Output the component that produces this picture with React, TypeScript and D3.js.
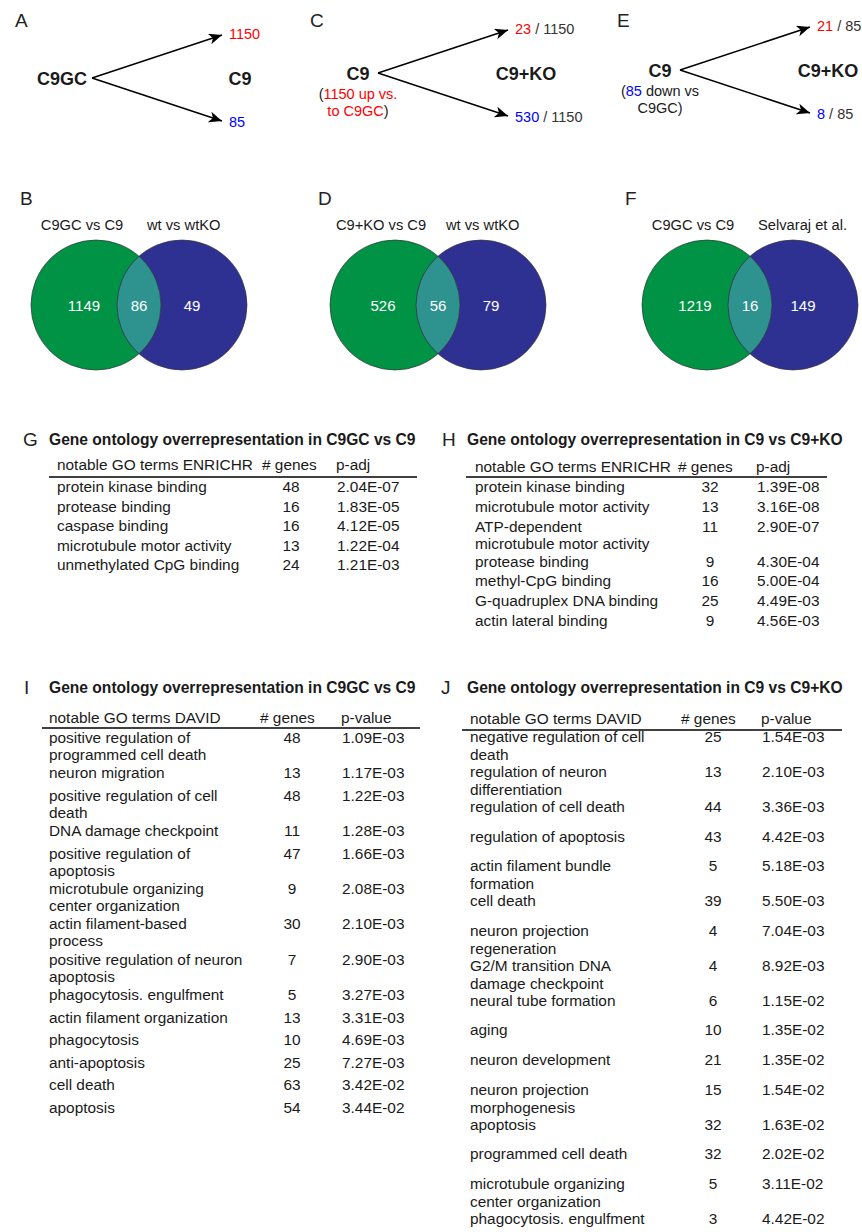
import React from 'react';
import * as d3 from 'd3';

const FONT = '"Liberation Sans", Arial, Helvetica, sans-serif';
const INK = '#1a1a1a';
const UP = '#ff0000';
const DOWN = '#0000ff';

// ---- panels A, C, E : fold-change arrows ----
const flowLetters = ['A', 'C', 'E'];
const flowSource = ['C9GC', 'C9', 'C9'];
const flowTarget = ['C9', 'C9+KO', 'C9+KO'];
const flowUp = [1150, 23, 21];
const flowDown = [85, 530, 8];
const flowTotal = [null, 1150, 85];
// note lines under the source label: [text, tone]
const flowNotes: [string, string][][][] = [
  [],
  [[['(', 'plain'], ['1150 up vs.', 'up']], [['to C9GC', 'up'], [')', 'plain']]],
  [[['(', 'plain'], ['85', 'down'], [' down vs', 'plain']], [['C9GC)', 'plain']]],
];

// ---- panels B, D, F : venns ----
const vennLetters = ['B', 'D', 'F'];
const vennLeftLabel = ['C9GC vs C9', 'C9+KO vs C9', 'C9GC vs C9'];
const vennRightLabel = ['wt vs wtKO', 'wt vs wtKO', 'Selvaraj et al.'];
const vennLeftOnly = [1149, 526, 1219];
const vennShared = [86, 56, 16];
const vennRightOnly = [49, 79, 149];

// ---- G ----
const gTerms = ['protein kinase binding', 'protease binding', 'caspase binding', 'microtubule motor activity', 'unmethylated CpG binding'];
const gGenes = [48, 16, 16, 13, 24];
const gP = ['2.04E-07', '1.83E-05', '4.12E-05', '1.22E-04', '1.21E-03'];

// ---- H ----
const hTerms = ['protein kinase binding', 'microtubule motor activity', 'ATP-dependent\nmicrotubule motor activity', 'protease binding', 'methyl-CpG binding', 'G-quadruplex DNA binding', 'actin lateral binding'];
const hGenes = [32, 13, 11, 9, 16, 25, 9];
const hP = ['1.39E-08', '3.16E-08', '2.90E-07', '4.30E-04', '5.00E-04', '4.49E-03', '4.56E-03'];

// ---- I ----
const iTerms = [
  'positive regulation of\nprogrammed cell death', 'neuron migration', 'positive regulation of cell\ndeath', 'DNA damage checkpoint',
  'positive regulation of\napoptosis', 'microtubule organizing\ncenter organization', 'actin filament-based\nprocess',
  'positive regulation of neuron\napoptosis', 'phagocytosis. engulfment', 'actin filament organization', 'phagocytosis',
  'anti-apoptosis', 'cell death', 'apoptosis'];
const iGenes = [48, 13, 48, 11, 47, 9, 30, 7, 5, 13, 10, 25, 63, 54];
const iP = ['1.09E-03', '1.17E-03', '1.22E-03', '1.28E-03', '1.66E-03', '2.08E-03', '2.10E-03', '2.90E-03', '3.27E-03', '3.31E-03', '4.69E-03', '7.27E-03', '3.42E-02', '3.44E-02'];

// ---- J ----
const jTerms = [
  'negative regulation of cell\ndeath', 'regulation of neuron\ndifferentiation', 'regulation of cell death', 'regulation of apoptosis',
  'actin filament bundle\nformation', 'cell death', 'neuron projection\nregeneration', 'G2/M transition DNA\ndamage checkpoint',
  'neural tube formation', 'aging', 'neuron development', 'neuron projection\nmorphogenesis', 'apoptosis',
  'programmed cell death', 'microtubule organizing\ncenter organization', 'phagocytosis. engulfment'];
const jGenes = [25, 13, 44, 43, 5, 39, 4, 4, 6, 10, 21, 15, 32, 32, 5, 3];
const jP = ['1.54E-03', '2.10E-03', '3.36E-03', '4.42E-03', '5.18E-03', '5.50E-03', '7.04E-03', '8.92E-03', '1.15E-02', '1.35E-02', '1.35E-02', '1.54E-02', '1.63E-02', '2.02E-02', '3.11E-02', '4.42E-02'];

// layout
const flowOrigin = d3.scaleOrdinal<string, [number, number]>().domain(flowLetters).range([[92, 78], [378, 73], [680, 70]]);
const flowLetterX = d3.scaleOrdinal<string, number>().domain(flowLetters).range([15, 310, 617]);
const arrowLen = 130, arrowRise = 43;
const vennX = d3.scaleOrdinal<string, number>().domain(vennLetters).range([96, 395, 707]);
const vennLetterX = d3.scaleOrdinal<string, number>().domain(vennLetters).range([20, 318, 625]);
const vennY = 305, vennR = 65, vennSep = 86;
const BODY = 15.4;

const toneColor = (t: string) => (t === 'up' ? UP : t === 'down' ? DOWN : INK);

function FlowPanel({ i }: { i: number }) {
  const key = flowLetters[i];
  const [ox, oy] = flowOrigin(key);
  const line = d3.line();
  const up = line([[ox, oy], [ox + arrowLen, oy - arrowRise]]);
  const dn = line([[ox, oy], [ox + arrowLen, oy + arrowRise]]);
  const notes = flowNotes[i];
  const srcCenter = notes.length ? ox - 20 : null;
  const tot = flowTotal[i];
  return (
    <g>
      <text x={flowLetterX(key)} y={27} fontSize={19} fill="#222">{key}</text>
      <path d={up!} stroke="#000" strokeWidth={1.5} fill="none" markerEnd="url(#arrowhead)" />
      <path d={dn!} stroke="#000" strokeWidth={1.5} fill="none" markerEnd="url(#arrowhead)" />
      {srcCenter === null ? (
        <text x={ox - 5} y={oy + 7} textAnchor="end" fontWeight="bold" fontSize={18} fill={INK}>{flowSource[i]}</text>
      ) : (
        <text x={srcCenter} y={oy + 7} textAnchor="middle" fontWeight="bold" fontSize={18} fill={INK}>{flowSource[i]}</text>
      )}
      {notes.map((segs, k) => (
        <text key={k} x={srcCenter!} y={oy + 26 + k * 17} textAnchor="middle" fontSize={14.5}>
          {segs.map(([t, tone], m) => <tspan key={m} fill={toneColor(tone)}>{t}</tspan>)}
        </text>
      ))}
      <text x={ox + 148} y={oy + 7} textAnchor="middle" fontWeight="bold" fontSize={18} fill={INK}>{flowTarget[i]}</text>
      <text x={ox + 137} y={oy - arrowRise + 4} fontSize={14.5}>
        <tspan fill={UP}>{flowUp[i]}</tspan>{tot !== null && <tspan fill="#333">{` / ${tot}`}</tspan>}
      </text>
      <text x={ox + 137} y={oy + arrowRise + 6} fontSize={14.5}>
        <tspan fill={DOWN}>{flowDown[i]}</tspan>{tot !== null && <tspan fill="#333">{` / ${tot}`}</tspan>}
      </text>
    </g>
  );
}

function VennPanel({ i }: { i: number }) {
  const key = vennLetters[i];
  const gx = vennX(key);
  const bx = gx + vennSep;
  const clipId = `clip-${key}`;
  return (
    <g>
      <text x={vennLetterX(key)} y={205} fontSize={19} fill="#222">{key}</text>
      <text x={gx - 14} y={230} textAnchor="middle" fontSize={14.7} fill={INK}>{vennLeftLabel[i]}</text>
      <text x={bx - 35} y={230} fontSize={14.7} fill={INK}>{vennRightLabel[i]}</text>
      <clipPath id={clipId}><circle cx={bx} cy={vennY} r={vennR} /></clipPath>
      <circle cx={gx} cy={vennY} r={vennR} fill="#009245" />
      <circle cx={bx} cy={vennY} r={vennR} fill="#2e3192" />
      <circle cx={gx} cy={vennY} r={vennR} fill="#2e938f" clipPath={`url(#${clipId})`} />
      <circle cx={gx} cy={vennY} r={vennR} fill="none" stroke="#333" strokeWidth={0.7} />
      <circle cx={bx} cy={vennY} r={vennR} fill="none" stroke="#333" strokeWidth={0.7} />
      <text x={gx - 12} y={vennY + 6} textAnchor="middle" fontSize={15} fill="#fff">{vennLeftOnly[i]}</text>
      <text x={(gx + bx) / 2} y={vennY + 6} textAnchor="middle" fontSize={15} fill="#fff">{vennShared[i]}</text>
      <text x={bx + 10} y={vennY + 6} textAnchor="middle" fontSize={15} fill="#fff">{vennRightOnly[i]}</text>
    </g>
  );
}

type TableCfg = {
  letter: string; lx: number; title: string; tx: number; ty: number; head: string; pHead: string;
  hy: number; termX: number; genesHX: number; genesX: number; pX: number;
  ruleY: number; ruleX0: number; ruleX1: number; rowY: number; pitch1: number; pitch2: number; lineH: number;
};

function GoTable({ cfg, terms, genes, pvals }: { cfg: TableCfg; terms: string[]; genes: number[]; pvals: string[] }) {
  const lines = terms.map((t) => t.split('\n'));
  const pitches = lines.map((l) => (l.length > 1 ? cfg.pitch2 : cfg.pitch1));
  const offs = Array.from(d3.cumsum([0, ...pitches.slice(0, -1)]));
  const y = d3.scaleLinear().domain([0, 1]).range([cfg.rowY, cfg.rowY + 1]);
  return (
    <g fill={INK}>
      <text x={cfg.lx} y={cfg.ty + 1} fontSize={19} fill="#222">{cfg.letter}</text>
      <text x={cfg.tx} y={cfg.ty} fontSize={15.6} fontWeight="bold">{cfg.title}</text>
      <text x={cfg.termX} y={cfg.hy} fontSize={BODY}>{cfg.head}</text>
      <text x={cfg.genesHX} y={cfg.hy} fontSize={BODY}># genes</text>
      <text x={cfg.pX - 1} y={cfg.hy} fontSize={BODY}>{cfg.pHead}</text>
      <line x1={cfg.ruleX0} x2={cfg.ruleX1} y1={cfg.ruleY} y2={cfg.ruleY} stroke="#000" strokeWidth={1.6} />
      {lines.map((ls, k) => (
        <g key={k}>
          {ls.map((s, m) => (
            <text key={m} x={cfg.termX} y={y(offs[k]) + m * cfg.lineH} fontSize={BODY}>{s}</text>
          ))}
          <text x={cfg.genesX} y={y(offs[k])} textAnchor="middle" fontSize={BODY}>{genes[k]}</text>
          <text x={cfg.pX} y={y(offs[k])} fontSize={BODY}>{pvals[k]}</text>
        </g>
      ))}
    </g>
  );
}

const gCfg: TableCfg = { letter: 'G', lx: 23, title: 'Gene ontology overrepresentation in C9GC vs C9', tx: 49, ty: 445, head: 'notable GO terms ENRICHR', pHead: 'p-adj', hy: 470, termX: 57, genesHX: 262, genesX: 291, pX: 337, ruleY: 477, ruleX0: 49, ruleX1: 417, rowY: 492, pitch1: 19.6, pitch2: 35, lineH: 17 };
const hCfg: TableCfg = { letter: 'H', lx: 442, title: 'Gene ontology overrepresentation in C9 vs C9+KO', tx: 467, ty: 445, head: 'notable GO terms ENRICHR', pHead: 'p-adj', hy: 472, termX: 475, genesHX: 678, genesX: 710, pX: 757, ruleY: 477, ruleX0: 466, ruleX1: 827, rowY: 492, pitch1: 19.8, pitch2: 35, lineH: 17 };
const iCfg: TableCfg = { letter: 'I', lx: 24, title: 'Gene ontology overrepresentation in C9GC vs C9', tx: 49, ty: 693, head: 'notable GO terms DAVID', pHead: 'p-value', hy: 723, termX: 49, genesHX: 260, genesX: 292, pX: 342, ruleY: 728, ruleX0: 42, ruleX1: 420, rowY: 743, pitch1: 22.6, pitch2: 35.3, lineH: 17 };
const jCfg: TableCfg = { letter: 'J', lx: 441, title: 'Gene ontology overrepresentation in C9 vs C9+KO', tx: 467, ty: 693, head: 'notable GO terms DAVID', pHead: 'p-value', hy: 724, termX: 470, genesHX: 681, genesX: 713, pX: 762, ruleY: 730, ruleX0: 462, ruleX1: 842, rowY: 742, pitch1: 29.6, pitch2: 35, lineH: 18 };

export default function App() {
  return (
    <svg width={862} height={1232} style={{ position: 'absolute', left: 0, top: 0, background: '#fff' }} fontFamily={FONT}>
      <defs>
        <marker id="arrowhead" markerUnits="userSpaceOnUse" markerWidth={14} markerHeight={12} refX={13} refY={5.5} orient="auto">
          <path d="M0,0 L13,5.5 L0,11 L3.5,5.5 Z" fill="#000" />
        </marker>
      </defs>
      {flowLetters.map((_, i) => <FlowPanel key={i} i={i} />)}
      {vennLetters.map((_, i) => <VennPanel key={i} i={i} />)}
      <GoTable cfg={gCfg} terms={gTerms} genes={gGenes} pvals={gP} />
      <GoTable cfg={hCfg} terms={hTerms} genes={hGenes} pvals={hP} />
      <GoTable cfg={iCfg} terms={iTerms} genes={iGenes} pvals={iP} />
      <GoTable cfg={jCfg} terms={jTerms} genes={jGenes} pvals={jP} />
    </svg>
  );
}
